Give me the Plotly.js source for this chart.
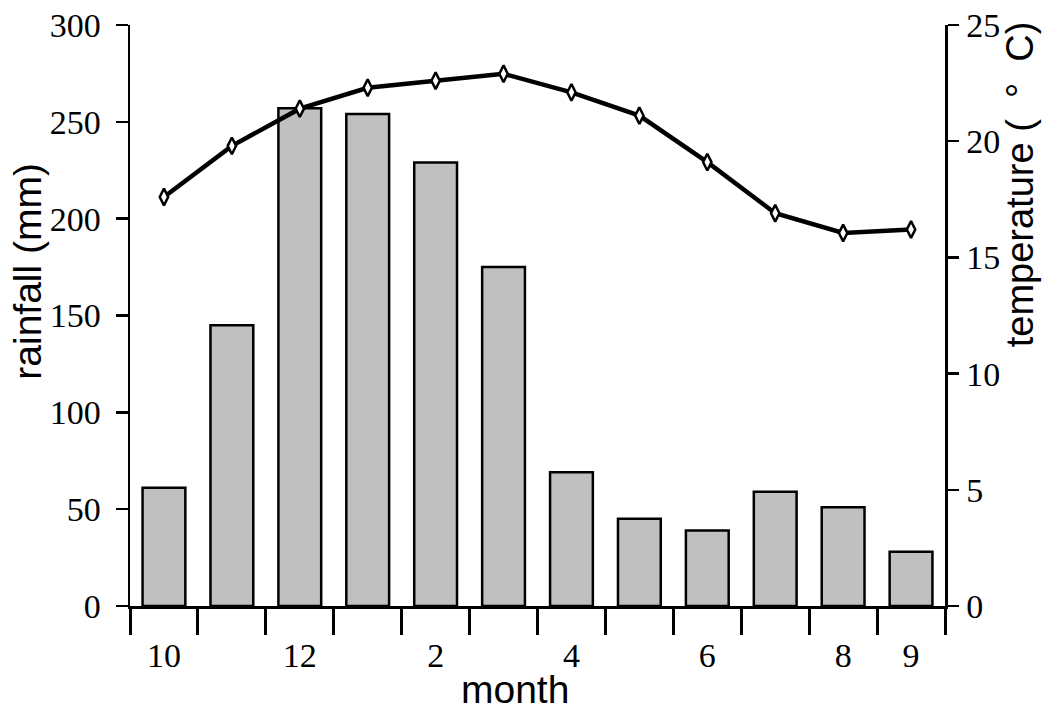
<!DOCTYPE html>
<html>
<head>
<meta charset="utf-8">
<script src="https://cdn.plot.ly/plotly-3.0.1.min.js"></script>
<style>html,body{margin:0;padding:0;background:#fff;}#chart{width:1042px;height:711px;}</style>
</head>
<body>
<div id="chart"></div>
<script>
// Data
const months = ["10","11","12","1","2","3","4","5","6","7","8","9"];
const rainfall = [61, 145, 257, 254, 229, 175, 69, 45, 39, 59, 51, 28];
const temperature = [17.6, 19.8, 21.4, 22.3, 22.6, 22.9, 22.1, 21.1, 19.1, 16.9, 16.05, 16.2];
const labelledMonths = ["10","12","2","4","6","8","9"];
const rainTicks = [0, 50, 100, 150, 200, 250, 300];
const tempTicks = [0, 5, 10, 15, 20, 25];

const idx = months.map((m, i) => i);
const boundaries = months.map((m, i) => i - 0.5).concat([months.length - 0.5]);
const labelPos = labelledMonths.map(m => months.indexOf(m));

const serif = "Liberation Serif, Times New Roman, serif";
const sans = "Liberation Sans, Arial, sans-serif";

const traces = [
  {
    type: "bar", x: idx, y: rainfall, width: 0.63,
    marker: {color: "#c0c0c0", line: {color: "#000", width: 2.5}},
    xaxis: "x", yaxis: "y", hoverinfo: "none"
  },
  {
    type: "scatter", mode: "lines+markers", x: idx, y: temperature,
    line: {color: "#000", width: 4.5},
    marker: {symbol: "diamond-tall", size: 12, color: "#fff", line: {color: "#000", width: 2.5}},
    xaxis: "x", yaxis: "y2", hoverinfo: "none"
  },
  // invisible trace to activate the label axis
  {type: "scatter", mode: "markers", x: [0], y: [0], marker: {opacity: 0}, xaxis: "x2", yaxis: "y", hoverinfo: "none"}
];

const layout = {
  width: 1042, height: 711,
  margin: {l: 130, r: 97, t: 25, b: 105},
  paper_bgcolor: "#fff", plot_bgcolor: "#fff",
  showlegend: false,
  bargap: 0,
  xaxis: {
    range: [-0.5, months.length - 0.5],
    tickmode: "array", tickvals: boundaries, ticktext: boundaries.map(() => ""),
    ticks: "outside", ticklen: 26, tickwidth: 3, tickcolor: "#000",
    showline: true, linecolor: "#000", linewidth: 2.5,
    showgrid: false, zeroline: false, showticklabels: false, fixedrange: true
  },
  xaxis2: {
    overlaying: "x", side: "bottom", anchor: "y",
    range: [-0.5, months.length - 0.5],
    tickmode: "array", tickvals: labelPos, ticktext: labelledMonths,
    ticks: "", ticklabelstandoff: 26,
    tickfont: {family: serif, size: 34, color: "#000"},
    showline: false, showgrid: false, zeroline: false, fixedrange: true
  },
  yaxis: {
    range: [0, 300], tickmode: "array", tickvals: rainTicks,
    ticks: "outside", ticklen: 12, tickwidth: 2.5, tickcolor: "#000",
    ticklabelstandoff: 8,
    tickfont: {family: serif, size: 34, color: "#000"},
    showline: true, linecolor: "#000", linewidth: 2.5,
    showgrid: false, zeroline: false, fixedrange: true
  },
  yaxis2: {
    overlaying: "y", side: "right", anchor: "x",
    range: [0, 25], tickmode: "array", tickvals: tempTicks,
    ticks: "outside", ticklen: 11, tickwidth: 2.5, tickcolor: "#000",
    ticklabelstandoff: 1,
    tickfont: {family: serif, size: 34, color: "#000"},
    showline: true, linecolor: "#000", linewidth: 2.5,
    showgrid: false, zeroline: false, fixedrange: true
  },
  annotations: [
    {text: "rainfall (mm)", xref: "paper", yref: "paper", x: -0.1255, y: 0.5766,
     textangle: -90, showarrow: false, xanchor: "center", yanchor: "middle",
     font: {family: sans, size: 39, color: "#000"}},
    {text: "temperature (\u00a0\u00a0°\u00a0\u00a0C)", xref: "paper", yref: "paper", x: 1.093, y: 0.7255,
     textangle: -90, showarrow: false, xanchor: "center", yanchor: "middle",
     font: {family: sans, size: 38, color: "#000"}},
    {text: "month", xref: "paper", yref: "paper", x: 0.4723, y: -0.1429,
     showarrow: false, xanchor: "center", yanchor: "middle",
     font: {family: sans, size: 39, color: "#000"}}
  ]
};

Plotly.newPlot("chart", traces, layout, {staticPlot: true, displayModeBar: false});
</script>
</body>
</html>
